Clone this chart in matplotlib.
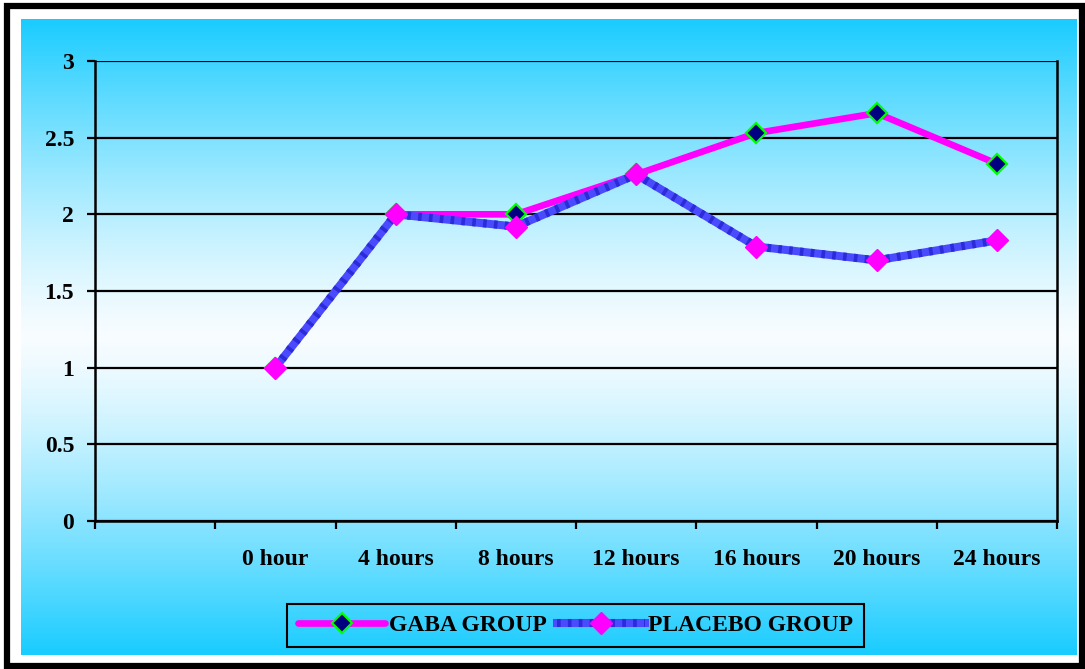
import numpy as np
import matplotlib
matplotlib.use('Agg')
import matplotlib.pyplot as plt
from matplotlib.lines import Line2D
from matplotlib.patches import Rectangle

# Values per time point
categories = ['0 hour', '4 hours', '8 hours', '12 hours', '16 hours', '20 hours', '24 hours']
gaba = [1.0, 2.0, 2.0, 2.26, 2.53, 2.66, 2.33]
placebo = [1.0, 2.0, 1.92, 2.26, 1.79, 1.70, 1.83]
yticks = [0, 0.5, 1, 1.5, 2, 2.5, 3]
ytick_labels = ['0', '0.5', '1', '1.5', '2', '2.5', '3']

W, H = 1085, 669
plt.rcParams['font.family'] = ['Liberation Serif', 'DejaVu Serif']
plt.rcParams['font.weight'] = 'bold'

fig = plt.figure(figsize=(W / 100, H / 100), dpi=100)
fig.patch.set_facecolor('white')

# outer black frame
fig.patches.append(Rectangle((7 / W, 1 - 666 / H), (1082 - 7) / W, (666 - 6) / H,
                             transform=fig.transFigure, fill=False,
                             edgecolor='black', linewidth=4.5, zorder=0))

# cyan-white-cyan background
bg = fig.add_axes([21 / W, 1 - 655 / H, (1077 - 21) / W, (655 - 19) / H], zorder=-1)
t = np.linspace(0, 1, 400)
w = np.abs(t - 0.5) * 2
cyan = np.array([0.10, 0.80, 1.0])
grad = (1 - w[:, None] ** 1.3) * np.array([0.97, 0.99, 1.0]) + (w[:, None] ** 1.3) * cyan
bg.imshow(grad[:, None, :], aspect='auto', extent=[0, 1, 0, 1])
bg.set_axis_off()

ax = fig.add_axes([95 / W, 1 - 521 / H, (1057 - 95) / W, (521 - 61) / H])
ax.set_facecolor('none')

x = np.arange(len(categories)) + 1.5

# GABA group
ax.plot(x, gaba, color='#ff00ff', linewidth=4.8, solid_joinstyle='round', zorder=3)
ax.plot(x, gaba, linestyle='none', marker='D', markersize=10.5,
        markerfacecolor='#000080', markeredgecolor='#00ff00', markeredgewidth=1.6, zorder=4)

# placebo group: blue striped line
ax.plot(x, placebo, color='#4a4aff', linewidth=5.8, zorder=5)
ax.plot(x, placebo, color='#2b2bd8', linewidth=5.8, linestyle=(0, (0.45, 0.9)),
        dash_capstyle='butt', zorder=5)
ax.plot(x, placebo, linestyle='none', marker='D', markersize=11,
        markerfacecolor='#ff00ff', markeredgecolor='#ff00ff', zorder=6)

ax.set_xlim(0, len(categories) + 1)
ax.set_ylim(0, 3)
ax.set_yticks(yticks)
ax.set_yticklabels(ytick_labels)
ax.set_xticks(np.arange(len(categories) + 2))
ax.set_xticklabels([])
ax.set_xticks(x, minor=True)
ax.set_xticklabels(categories, minor=True)
ax.tick_params(axis='x', which='major', length=6, width=1.6, direction='out', color='black')
ax.tick_params(axis='x', which='minor', length=0, pad=20, labelsize=17)
ax.tick_params(axis='y', length=6, width=1.6, pad=9, labelsize=17)
for lab in ax.get_xticklabels(minor=True) + ax.get_yticklabels():
    lab.set_fontweight('bold')

ax.grid(axis='y', color='black', linewidth=1.6)
ax.set_axisbelow(True)
for s in ax.spines.values():
    s.set_linewidth(1.8)
    s.set_color('black')
ax.spines['top'].set_visible(False)

# legend
h_gaba = Line2D([], [], color='#ff00ff', linewidth=4.8, solid_capstyle='round',
                marker='D', markersize=10.5, markerfacecolor='#000080',
                markeredgecolor='#00ff00', markeredgewidth=1.6)
h_pl_base = Line2D([], [], color='#4a4aff', linewidth=5.8)
h_pl_str = Line2D([], [], color='#2b2bd8', linewidth=5.8, linestyle=(0, (0.45, 0.9)),
                  dash_capstyle='butt')
h_pl_mk = Line2D([], [], linestyle='none', marker='D', markersize=11,
                 markerfacecolor='#ff00ff', markeredgecolor='#ff00ff')
leg = fig.legend([h_gaba, (h_pl_base, h_pl_str, h_pl_mk)], ['GABA GROUP', 'PLACEBO GROUP'],
                 loc='center', bbox_to_anchor=(575.5 / W, 1 - 625.5 / H), ncol=2,
                 prop={'family': 'Liberation Serif', 'weight': 'bold', 'size': 17},
                 handlelength=3.7, handletextpad=0.15, columnspacing=0.45,
                 borderpad=0.45, borderaxespad=0, frameon=True, fancybox=False,
                 framealpha=1)
leg.get_frame().set_facecolor('none')
leg.get_frame().set_edgecolor('black')
leg.get_frame().set_linewidth(1.5)

fig.savefig('out.png', dpi=100)
